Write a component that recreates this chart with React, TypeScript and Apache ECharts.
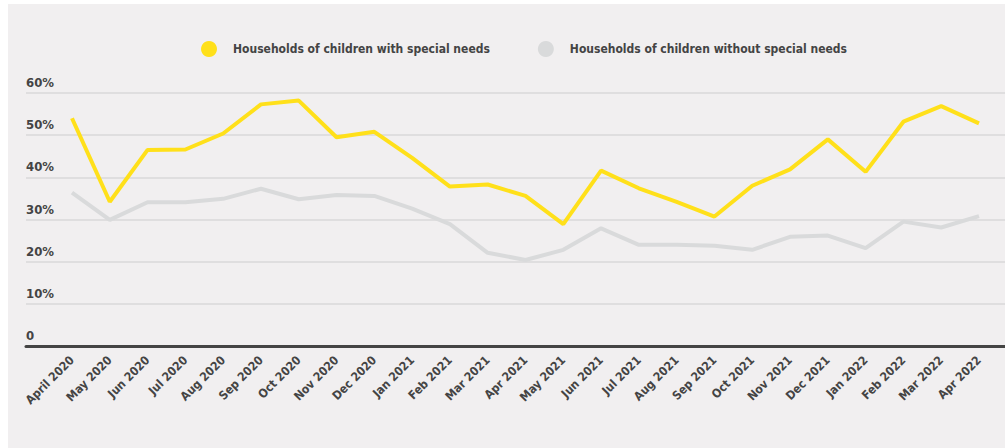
import React, { useEffect, useRef } from "react";
import * as echarts from "echarts";

const months = [
  "April 2020", "May 2020", "Jun 2020", "Jul 2020", "Aug 2020", "Sep 2020", "Oct 2020",
  "Nov 2020", "Dec 2020", "Jan 2021", "Feb 2021", "Mar 2021", "Apr 2021", "May 2021",
  "Jun 2021", "Jul 2021", "Aug 2021", "Sep 2021", "Oct 2021", "Nov 2021", "Dec 2021",
  "Jan 2022", "Feb 2022", "Mar 2022", "Apr 2022",
];

const withSpecialNeeds = [
  54.0, 34.2, 46.5, 46.6, 50.4, 57.3, 58.2, 49.5, 50.8, 44.6, 37.8, 38.3, 35.6, 28.9,
  41.6, 37.4, 34.2, 30.7, 38.0, 41.9, 49.0, 41.3, 53.2, 56.9, 52.8,
];

const withoutSpecialNeeds = [
  36.4, 29.9, 34.1, 34.1, 34.9, 37.3, 34.8, 35.8, 35.6, 32.6, 28.9, 22.1, 20.4, 22.8,
  27.9, 24.0, 24.0, 23.8, 22.8, 25.9, 26.2, 23.2, 29.5, 28.1, 30.8,
];

const seriesNames = [
  "Households of children with special needs",
  "Households of children without special needs",
];

const yTicks = [0, 10, 20, 30, 40, 50, 60];

const FONT = "'Liberation Sans Narrow', 'DejaVu Sans Condensed', 'Roboto', sans-serif";
const TEXT = "#444444";
const YELLOW = "#FFE01A";
const GREY = "#D9DADB";

export default function App() {
  const ref = useRef<HTMLDivElement>(null);

  useEffect(() => {
    if (!ref.current) return;
    const chart = echarts.init(ref.current, undefined, { renderer: "svg" });
    const top = 89;
    const bottom = 102;
    chart.setOption({
      animation: false,
      backgroundColor: "#F1EFF0",
      textStyle: { fontFamily: FONT },
      legend: {
        left: 188,
        top: 32,
        itemWidth: 38,
        itemHeight: 16,
        itemGap: 48,
        icon: "circle",
        textStyle: { color: TEXT, fontSize: 12, fontWeight: "bold", fontFamily: FONT },
        data: seriesNames,
      },
      grid: [
        { left: 18, right: 0, top, bottom },
        { left: 64, right: 26, top, bottom },
      ],
      xAxis: [
        {
          gridIndex: 0,
          type: "category",
          data: months,
          axisLine: { show: true, lineStyle: { color: TEXT, width: 3 } },
          axisTick: { show: false },
          axisLabel: { show: false },
          splitLine: { show: false },
        },
        {
          gridIndex: 1,
          type: "category",
          data: months,
          boundaryGap: false,
          axisLine: { show: false },
          axisTick: { show: false },
          axisLabel: {
            rotate: 45,
            interval: 0,
            margin: 12,
            color: TEXT,
            fontSize: 12,
            fontWeight: "bold",
            fontFamily: FONT,
          },
          splitLine: { show: false },
        },
      ],
      yAxis: [
        {
          gridIndex: 0,
          type: "value",
          min: yTicks[0],
          max: yTicks[yTicks.length - 1],
          interval: 10,
          axisLine: { show: false },
          axisTick: { show: false },
          splitLine: { show: true, lineStyle: { color: "#DFDEDF", width: 2 } },
          axisLabel: {
            inside: true,
            margin: 0,
            align: "left",
            verticalAlign: "bottom",
            padding: [0, 0, 4, 0],
            color: TEXT,
            fontSize: 13,
            fontWeight: "bold",
            fontFamily: FONT,
            formatter: (v: number) => (v === 0 ? "0" : v + "%"),
          },
        },
        {
          gridIndex: 1,
          type: "value",
          min: yTicks[0],
          max: yTicks[yTicks.length - 1],
          interval: 10,
          axisLine: { show: false },
          axisTick: { show: false },
          splitLine: { show: false },
          axisLabel: { show: false },
        },
      ],
      series: [
        {
          name: seriesNames[0],
          type: "line",
          xAxisIndex: 1,
          yAxisIndex: 1,
          data: withSpecialNeeds,
          symbol: "none",
          z: 3,
          itemStyle: { color: YELLOW },
          lineStyle: { color: YELLOW, width: 4 },
        },
        {
          name: seriesNames[1],
          type: "line",
          xAxisIndex: 1,
          yAxisIndex: 1,
          data: withoutSpecialNeeds,
          symbol: "none",
          z: 2,
          itemStyle: { color: GREY },
          lineStyle: { color: GREY, width: 4 },
        },
      ],
    });
    return () => chart.dispose();
  }, []);

  return (
    <div
      ref={ref}
      style={{ position: "absolute", left: 8, top: 4, width: 997, height: 444 }}
    />
  );
}
